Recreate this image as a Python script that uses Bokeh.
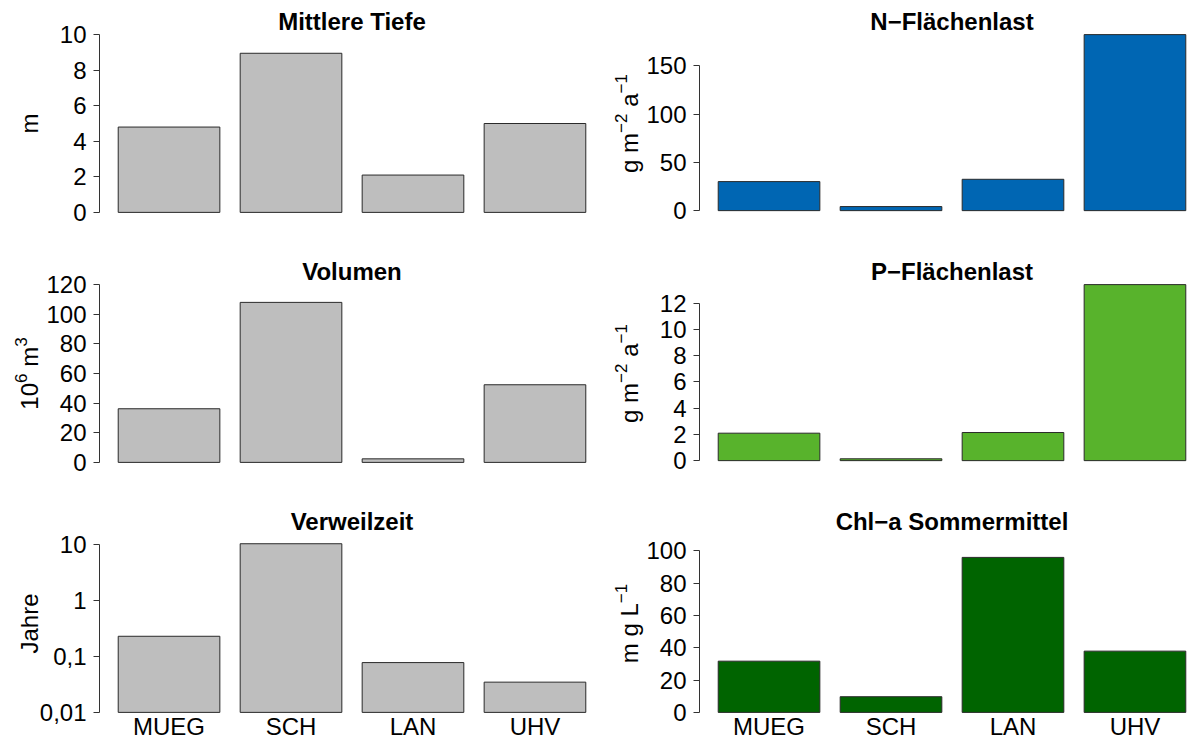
import math
from bokeh.plotting import figure
from bokeh.models import FixedTicker, Label, Range1d
from bokeh.layouts import column, row
from bokeh.embed import file_html
from bokeh.resources import INLINE

# ---------------- data ----------------
sites = ["MUEG", "SCH", "LAN", "UHV"]
tiefe = [4.8, 8.95, 2.1, 5.0]
volumen = [36.2, 108.0, 2.4, 52.4]
verweilzeit = [0.229, 10.3, 0.0776, 0.0347]
n_last = [30.1, 4.2, 32.5, 182.5]
p_last = [2.09, 0.14, 2.14, 13.4]
chla = [31.7, 9.7, 95.9, 37.9]

titles = ["Mittlere Tiefe", "N\u2212Fl\u00e4chenlast", "Volumen",
          "P\u2212Fl\u00e4chenlast", "Verweilzeit", "Chl\u2212a Sommermittel"]
# y labels as (text, is_superscript) pieces
ylab_m = [("m", False)]
ylab_load = [("g m", False), ("\u22122", True), (" a", False), ("\u22121", True)]
ylab_vol = [("10", False), ("6", True), (" m", False), ("3", True)]
ylab_year = [("Jahre", False)]
ylab_chl = [("m g L", False), ("\u22121", True)]

tiefe_ticks = [0, 2, 4, 6, 8, 10]
n_ticks = [0, 50, 100, 150]
volumen_ticks = [0, 20, 40, 60, 80, 100, 120]
p_ticks = [0, 2, 4, 6, 8, 10, 12]
verweil_ticks = [0.01, 0.1, 1, 10]
verweil_tick_labels = ["0,01", "0,1", "1", "10"]
chla_ticks = [0, 20, 40, 60, 80, 100]

FONT = "Liberation Sans"
GRAY = "#BEBEBE"
BLUE = "#0066B3"
LGREEN = "#58B32C"
DGREEN = "#006400"

# approximate advance widths (em) of Liberation Sans, for placing pieces
ADV = {"g": .556, " ": .278, "m": .833, "a": .556, "\u2212": .584, "1": .556,
       "2": .556, "0": .556, "6": .556, "3": .556, "L": .556, "J": .5,
       "h": .556, "r": .333, "e": .556}
BASE_SIZE = 24
SUP_SIZE = 17
SUP_RAISE = 9


def piece_len(s, size):
    return sum(ADV.get(c, .556) for c in s) * size


def panel(vals, color, title, ylabel, ylim, ticks, col, rowi,
          log=False, tick_labels=None, show_x=False):
    W = [600, 588][col]
    H = [250, 250, 240][rowi]
    ax_px = 99               # axis position inside the figure
    top_px, bot_px = 27, 219  # plot region inside the figure
    unit = 101.65            # pixels per bar unit
    x0 = 0.016
    xr = Range1d(x0 - ax_px / unit, x0 + (W - ax_px) / unit)
    if log:
        f = math.log10
        g = lambda v: 10 ** v
    else:
        f = lambda v: v
        g = lambda v: v
    lo, hi = f(ylim[0]), f(ylim[1])
    e = 0.04 * (hi - lo)
    rlo, rhi = lo - e, hi + e
    k = (bot_px - top_px) / (rhi - rlo)
    yr = Range1d(g(rlo - (H - bot_px) / k), g(rhi + top_px / k))
    xs = [round(0.7 + 1.2 * i, 2) for i in range(len(sites))]

    p = figure(width=W, height=H, x_range=xr, y_range=yr,
               y_axis_type="log" if log else "linear",
               output_backend="svg", toolbar_location=None, title=None,
               min_border=0)
    p.outline_line_color = None
    p.xgrid.visible = False
    p.ygrid.visible = False
    p.background_fill_color = "white"
    p.border_fill_color = "white"

    base = ylim[0] if log else 0
    p.vbar(x=xs, top=vals, bottom=base, width=1.0, fill_color=color,
           line_color="#2a2a2a", line_width=1)

    # y axis
    ya = p.yaxis[0]
    ya.fixed_location = x0
    ya.ticker = FixedTicker(ticks=ticks)
    ya.bounds = (ticks[0], ticks[-1])
    if tick_labels is not None:
        ya.major_label_overrides = {t: s for t, s in zip(ticks, tick_labels)}
    ya.axis_line_color = "#333333"
    ya.major_tick_line_color = "#333333"
    ya.minor_tick_line_color = None
    ya.major_tick_out = 6
    ya.major_tick_in = 0
    ya.major_label_standoff = 7
    ya.major_label_text_font = FONT
    ya.major_label_text_font_size = "24px"
    ya.major_label_text_color = "black"

    # x axis
    xa = p.xaxis[0]
    if show_x:
        xa.fixed_location = g(rlo)
        xa.ticker = FixedTicker(ticks=xs)
        xa.major_label_overrides = {x: s for x, s in zip(xs, sites)}
        xa.axis_line_color = None
        xa.major_tick_line_color = None
        xa.minor_tick_line_color = None
        xa.major_tick_out = 0
        xa.major_tick_in = 0
        xa.major_label_standoff = -7
        xa.major_label_text_font = FONT
        xa.major_label_text_font_size = "24px"
        xa.major_label_text_color = "black"
    else:
        xa.visible = False

    p.add_layout(Label(x=2.5, y=g(rhi), y_offset=6, text=title,
                       text_align="center", text_baseline="alphabetic",
                       text_font=FONT, text_font_size="24px",
                       text_font_style="bold", text_color="black"))

    # rotated y label, built from normal and superscript pieces
    sizes = [SUP_SIZE if sup else BASE_SIZE for _, sup in ylabel]
    lens = [piece_len(t, s) for (t, _), s in zip(ylabel, sizes)]
    pos = -sum(lens) / 2
    ymid = g((rlo + rhi) / 2)
    for (t, sup), s, L in zip(ylabel, sizes, lens):
        body = t.lstrip()
        lead = piece_len(t[:len(t) - len(body)], s)
        p.add_layout(Label(x=x0, y=ymid, x_offset=-70 - (SUP_RAISE if sup else 0),
                           y_offset=pos + lead, angle=math.pi / 2, text=body,
                           text_align="left", text_baseline="alphabetic",
                           text_font=FONT, text_font_size=f"{s}px",
                           text_color="black"))
        pos += L
    return p


p1 = panel(tiefe, GRAY, titles[0], ylab_m, (0, 10), tiefe_ticks, 0, 0)
p2 = panel(n_last, BLUE, titles[1], ylab_load,
           (-0.01 * max(n_last), max(n_last)), n_ticks, 1, 0)
p3 = panel(volumen, GRAY, titles[2], ylab_vol, (0, 120), volumen_ticks, 0, 1)
p4 = panel(p_last, LGREEN, titles[3], ylab_load,
           (-0.01 * max(p_last), max(p_last)), p_ticks, 1, 1)
p5 = panel(verweilzeit, GRAY, titles[4], ylab_year, (0.01, 15), verweil_ticks,
           0, 2, log=True, tick_labels=verweil_tick_labels, show_x=True)
p6 = panel(chla, DGREEN, titles[5], ylab_chl, (0, 110), chla_ticks, 1, 2,
           show_x=True)

layout = column(row(p1, p2), row(p3, p4), row(p5, p6))
open("out.html", "w").write(file_html(layout, INLINE))
